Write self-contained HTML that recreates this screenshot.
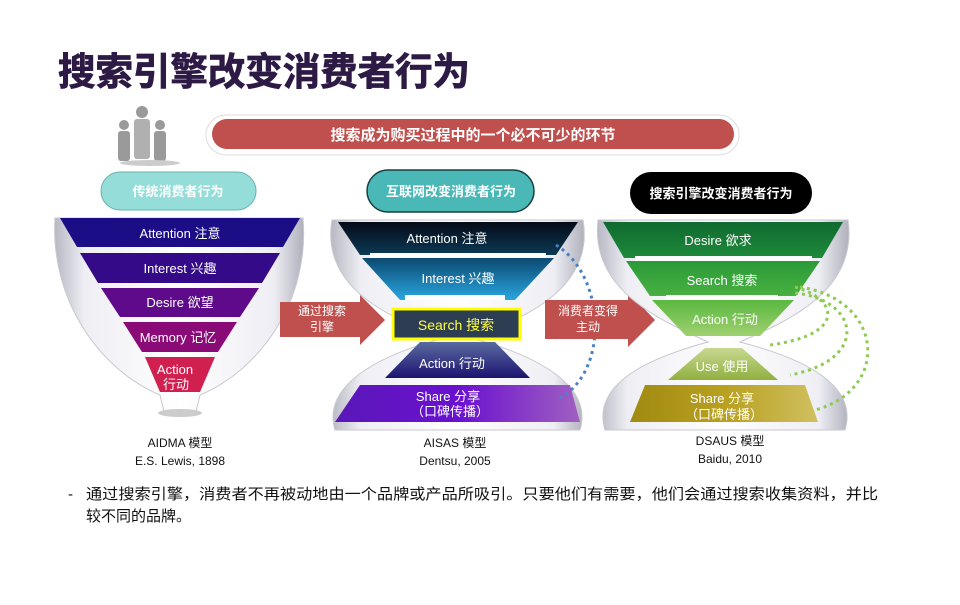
<!DOCTYPE html>
<html><head><meta charset="utf-8"><style>
html,body{margin:0;padding:0;background:#fff;}
body{width:960px;height:600px;overflow:hidden;font-family:"Liberation Sans","Noto Sans CJK SC",sans-serif;}
</style></head><body>
<svg width="960" height="600" viewBox="0 0 960 600" xmlns="http://www.w3.org/2000/svg" font-family="Liberation Sans, Noto Sans CJK SC, sans-serif">
<defs>
<linearGradient id="glass" x1="0" x2="1" y1="0" y2="0">
<stop offset="0" stop-color="#b8b8c4"/><stop offset="0.12" stop-color="#eeeef4"/><stop offset="0.5" stop-color="#ffffff"/><stop offset="0.88" stop-color="#eeeef4"/><stop offset="1" stop-color="#b0b0bc"/></linearGradient>
<linearGradient id="g2a" x1="0" y1="0" x2="0" y2="1"><stop offset="0" stop-color="#050a18"/><stop offset="1" stop-color="#0b3a55"/></linearGradient>
<linearGradient id="g2b" x1="0" y1="0" x2="0" y2="1"><stop offset="0" stop-color="#0b4a70"/><stop offset="1" stop-color="#2aa6e0"/></linearGradient>
<linearGradient id="g2c" x1="0" y1="0" x2="0" y2="1"><stop offset="0" stop-color="#5a6aa0"/><stop offset="1" stop-color="#1c1470"/></linearGradient>
<linearGradient id="g2d" x1="0" y1="0" x2="1" y2="0"><stop offset="0" stop-color="#5a18b8"/><stop offset="0.5" stop-color="#6a10d0"/><stop offset="1" stop-color="#a060c0"/></linearGradient>
<linearGradient id="g3a" x1="0" y1="0" x2="0" y2="1"><stop offset="0" stop-color="#0f6a30"/><stop offset="1" stop-color="#1e8a3a"/></linearGradient>
<linearGradient id="g3b" x1="0" y1="0" x2="0" y2="1"><stop offset="0" stop-color="#2a9a38"/><stop offset="1" stop-color="#48b040"/></linearGradient>
<linearGradient id="g3c" x1="0" y1="0" x2="0" y2="1"><stop offset="0" stop-color="#5ab840"/><stop offset="1" stop-color="#a0d070"/></linearGradient>
<linearGradient id="g3d" x1="0" y1="0" x2="0" y2="1"><stop offset="0" stop-color="#c8d890"/><stop offset="1" stop-color="#90b040"/></linearGradient>
<linearGradient id="g3e" x1="0" y1="0" x2="1" y2="0"><stop offset="0" stop-color="#a08a10"/><stop offset="0.5" stop-color="#b8a020"/><stop offset="1" stop-color="#d0c060"/></linearGradient>
</defs>

<text x="58" y="85" font-size="38" font-weight="bold" fill="#2d1a45" stroke="#2d1a45" stroke-width="0.8" textLength="412" lengthAdjust="spacingAndGlyphs">搜索引擎改变消费者行为</text>

<!-- people icon -->
<g fill="#9a9a9a">
<circle cx="124" cy="125" r="5"/><rect x="118" y="131" width="12" height="30" rx="3"/>
<circle cx="160" cy="125" r="5"/><rect x="154" y="131" width="12" height="30" rx="3"/>
<circle cx="142" cy="112" r="6"/><rect x="134" y="119" width="16" height="40" rx="3" fill="#b0b0b0"/>
</g>
<ellipse cx="150" cy="163" rx="30" ry="3" fill="#ccc"/>

<!-- red banner -->
<rect x="206" y="115" width="533" height="40" rx="20" fill="#fff" stroke="#ddd"/>
<rect x="212" y="119" width="522" height="30" rx="15" fill="#c0504d"/>
<text x="473" y="140" font-size="15" font-weight="bold" fill="#fff" text-anchor="middle">搜索成为购买过程中的一个必不可少的环节</text>

<!-- pills -->
<rect x="101" y="172" width="155" height="38" rx="19" fill="#95ddd8" stroke="#6ab0b0"/>
<text x="178" y="196" font-size="13" font-weight="bold" fill="#fff" text-anchor="middle">传统消费者行为</text>
<rect x="367" y="170" width="167" height="42" rx="21" fill="#4bb8b8" stroke="#1a4040" stroke-width="1.5"/>
<text x="451" y="196" font-size="13" font-weight="bold" fill="#fff" text-anchor="middle">互联网改变消费者行为</text>
<rect x="630" y="172" width="182" height="42" rx="21" fill="#000"/>
<text x="721" y="198" font-size="13" font-weight="bold" fill="#fff" text-anchor="middle">搜索引擎改变消费者行为</text>

<!-- Funnel 1 -->
<path d="M55,218 L303,218 C310,300 260,370 200,395 L196,412 L164,412 L160,395 C100,370 50,300 55,218 Z" fill="url(#glass)" stroke="#c8c8d0"/>
<ellipse cx="180" cy="413" rx="22" ry="4" fill="#ccc"/>
<polygon points="60,218 300,218 283,247 77,247" fill="#1a0d85"/>
<polygon points="80,253 280,253 262,283 98,283" fill="#350a88"/>
<polygon points="101,288 259,288 240,317 120,317" fill="#5e0a8a"/>
<polygon points="123,322 237,322 218,352 142,352" fill="#8a0a78"/>
<polygon points="145,357 215,357 200,392 160,392" fill="#d02050"/>
<g fill="#fff" font-size="13" text-anchor="middle">
<text x="180" y="238">Attention 注意</text>
<text x="180" y="273">Interest 兴趣</text>
<text x="180" y="307">Desire 欲望</text>
<text x="178" y="342">Memory 记忆</text>
<text x="175" y="374">Action</text>
<text x="176" y="389">行动</text>
</g>
<g font-size="12" fill="#111" text-anchor="middle">
<text x="180" y="447">AIDMA 模型</text>
<text x="180" y="465">E.S. Lewis, 1898</text>
</g>

<!-- Arrow 1 -->
<polygon points="280,302 360,302 360,295 385,320 360,345 360,337 280,337" fill="#c0504d"/>
<text x="322" y="315" font-size="12" fill="#fff" text-anchor="middle">通过搜索</text>
<text x="322" y="331" font-size="12" fill="#fff" text-anchor="middle">引擎</text>

<!-- Funnel 2 -->
<path d="M332,220 L583,220 C595,290 520,320 470,338 C520,350 595,380 580,430 L335,430 C320,380 395,350 445,338 C395,320 320,290 332,220 Z" fill="url(#glass)" stroke="#c8c8d0"/>
<polygon points="338,222 578,222 556,255 360,255" fill="url(#g2a)"/>
<rect x="370" y="253" width="176" height="5" fill="#fff"/>
<polygon points="362,258 554,258 515,300 400,300" fill="url(#g2b)"/>
<rect x="405" y="295" width="100" height="5" fill="#fff"/>
<rect x="393" y="309" width="127" height="30" fill="#2e3e52" stroke="#ffff00" stroke-width="3"/>
<text x="456" y="330" font-size="14" fill="#ffff40" text-anchor="middle">Search 搜索</text>
<polygon points="420,342 495,342 530,378 385,378" fill="url(#g2c)"/>
<polygon points="360,385 570,385 580,422 335,422" fill="url(#g2d)"/>
<g fill="#fff" font-size="13" text-anchor="middle">
<text x="447" y="243">Attention 注意</text>
<text x="458" y="283">Interest 兴趣</text>
<text x="452" y="368">Action 行动</text>
<text x="448" y="401">Share 分享</text>
<text x="450" y="416">（口碑传播）</text>
</g>
<path d="M556,245 C605,275 610,370 560,398" fill="none" stroke="#4a80c8" stroke-width="3" stroke-dasharray="3,4"/>
<g font-size="12" fill="#111" text-anchor="middle">
<text x="455" y="447">AISAS 模型</text>
<text x="455" y="465">Dentsu, 2005</text>
</g>

<!-- Arrow 2 -->
<polygon points="545,300 628,300 628,292 655,320 628,347 628,339 545,339" fill="#c0504d"/>
<text x="588" y="315" font-size="12" fill="#fff" text-anchor="middle">消费者变得</text>
<text x="588" y="331" font-size="12" fill="#fff" text-anchor="middle">主动</text>

<!-- Funnel 3 -->
<path d="M598,220 L848,220 C858,290 790,320 740,342 C790,355 860,380 845,430 L605,430 C590,380 660,355 708,342 C660,320 590,290 598,220 Z" fill="url(#glass)" stroke="#c8c8d0"/>
<polygon points="603,222 843,222 822,258 624,258" fill="url(#g3a)"/>
<rect x="635" y="256" width="177" height="5" fill="#fff"/>
<polygon points="626,261 820,261 796,296 650,296" fill="url(#g3b)"/>
<rect x="666" y="295" width="112" height="5" fill="#fff"/>
<polygon points="652,300 794,300 760,336 686,336" fill="url(#g3c)"/>
<polygon points="705,348 742,348 778,380 668,380" fill="url(#g3d)"/>
<polygon points="645,385 805,385 818,422 630,422" fill="url(#g3e)"/>
<g fill="#fff" font-size="13" text-anchor="middle">
<text x="718" y="245">Desire 欲求</text>
<text x="722" y="285">Search 搜索</text>
<text x="725" y="324">Action 行动</text>
<text x="722" y="371">Use 使用</text>
<text x="722" y="403">Share 分享</text>
<text x="724" y="419">（口碑传播）</text>
</g>
<g fill="none" stroke="#8ccc50" stroke-width="3" stroke-dasharray="3,4">
<path d="M795,287 C840,300 845,335 770,345"/>
<path d="M795,293 C860,300 870,360 790,375"/>
<path d="M800,287 C885,300 890,390 815,410"/>
</g>
<g font-size="12" fill="#111" text-anchor="middle">
<text x="730" y="445">DSAUS 模型</text>
<text x="730" y="463">Baidu, 2010</text>
</g>

<!-- bottom text -->
<g font-size="15" fill="#111">
<text x="68" y="499">-</text>
<text x="86" y="499" textLength="792" lengthAdjust="spacingAndGlyphs">通过搜索引擎，消费者不再被动地由一个品牌或产品所吸引。只要他们有需要，他们会通过搜索收集资料，并比</text>
<text x="86" y="521">较不同的品牌。</text>
</g>
</svg>
</body></html>
